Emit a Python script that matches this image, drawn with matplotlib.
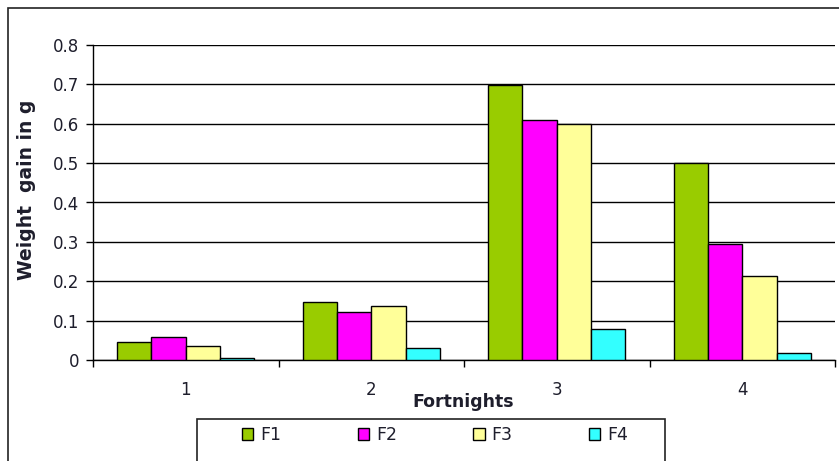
import matplotlib.pyplot as plt
import numpy as np
from matplotlib.patches import Rectangle, Patch

plt.rcParams['font.family'] = ['DejaVu Sans']

fortnights = ['1', '2', '3', '4']
series_names = ['F1', 'F2', 'F3', 'F4']
f1 = [0.046, 0.148, 0.698, 0.500]
f2 = [0.058, 0.123, 0.609, 0.295]
f3 = [0.036, 0.138, 0.600, 0.214]
f4 = [0.006, 0.031, 0.078, 0.017]
colors = ['#99cc00', '#ff00ff', '#ffff99', '#33ffff']

W, H = 839, 461
fig = plt.figure(figsize=(W / 100, H / 100), dpi=100)
txt = '#1e1e2c'

# outer chart border (runs off the right and bottom edges)
fig.patches.append(Rectangle((8 / W, -0.1), 1.2, 1 - 8 / H + 0.1, transform=fig.transFigure,
                             fill=False, edgecolor='#222222', linewidth=1.2))

ax = fig.add_axes([93 / W, 1 - 360 / H, (835 - 93) / W, (360 - 45) / H])

x = np.arange(len(fortnights))
bw = 0.185
for i, (vals, c) in enumerate(zip([f1, f2, f3, f4], colors)):
    ax.bar(x + (i - 1.5) * bw, vals, width=bw, color=c, edgecolor='black',
           linewidth=1.0, zorder=3)

ax.set_xlim(-0.5, 3.5)
ax.set_ylim(0, 0.8)
ax.set_yticks(np.arange(0, 0.81, 0.1))
ax.set_yticklabels(['0'] + ['%.1f' % v for v in np.arange(0.1, 0.81, 0.1)])
ax.yaxis.grid(True, color='black', linewidth=1.0, zorder=0)
ax.set_axisbelow(True)

# category ticks sit on the group boundaries, labels at the centres
ax.set_xticks(np.arange(-0.5, 3.6, 1.0))
ax.set_xticklabels([])
ax.set_xticks(x, minor=True)
ax.set_xticklabels(fortnights, minor=True)
ax.tick_params(axis='x', which='minor', length=0, pad=15, labelsize=12, labelcolor=txt)
ax.tick_params(axis='x', which='major', length=5, width=1.0, direction='out')
ax.tick_params(axis='y', length=5, width=1.0, labelsize=12, labelcolor=txt, pad=5)

for s in ['top', 'right']:
    ax.spines[s].set_visible(False)
ax.spines['left'].set_linewidth(1.0)
ax.spines['bottom'].set_linewidth(1.0)

fig.text(27 / W, 1 - 190 / H, 'Weight  gain in g', rotation=90, fontsize=13.5,
         fontweight='bold', color=txt, ha='center', va='center')
fig.text(463 / W, 1 - 402 / H, 'Fortnights', fontsize=12.5, fontweight='bold',
         color=txt, ha='center', va='center')

# legend box at the bottom
fig.patches.append(Rectangle((197 / W, -0.1), (665 - 197) / W, 0.1 + 1 - 419 / H,
                             transform=fig.transFigure, fill=False,
                             edgecolor='#222222', linewidth=1.2))
handles = [Patch(facecolor=c, edgecolor='black', linewidth=1.0) for c in colors]
fig.legend(handles, series_names, loc='center', ncol=4, frameon=False,
           bbox_to_anchor=(435 / W, 1 - 435 / H), fontsize=12.5, labelcolor=txt,
           handlelength=0.65, handleheight=0.65, handletextpad=0.4, columnspacing=4.4)

fig.savefig('out.png', dpi=100)
